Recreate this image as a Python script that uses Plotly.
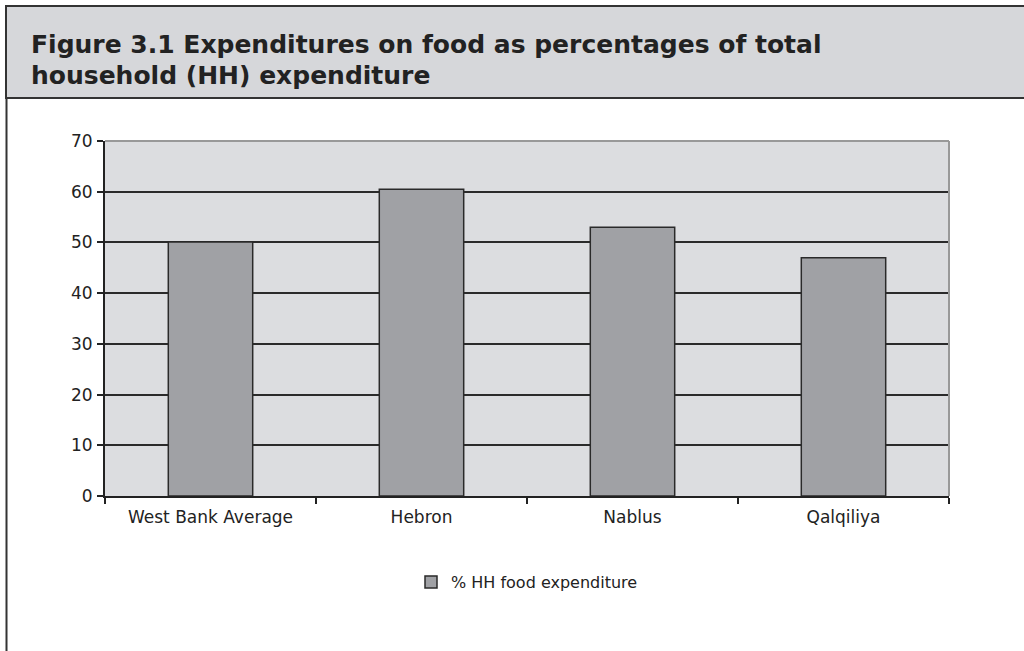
import plotly.graph_objects as go

categories = ["West Bank Average", "Hebron", "Nablus", "Qalqiliya"]
values = [50.1, 60.5, 53.0, 47.0]
series_name = "% HH food expenditure"
y_ticks = [0, 10, 20, 30, 40, 50, 60, 70]
title_line1 = "<b>Figure 3.1 Expenditures on food as percentages of total</b>"
title_line2 = "<b>household (HH) expenditure</b>"

W, H = 1024, 651
L, R, T, B = 105, 75, 141, 155
pw, ph = W - L - R, H - T - B


def px(x):
    return (x - L) / pw


def py(y):
    return (H - B - y) / ph


fig = go.Figure()
fig.add_trace(go.Bar(
    x=categories, y=values, name=series_name, width=0.4,
    marker=dict(color="#a0a1a5", line=dict(color="#2a2a2a", width=1.5)),
    showlegend=True,
))

shapes = [
    dict(type="rect", xref="paper", yref="paper", x0=px(6), x1=px(1030), y0=py(98), y1=py(6),
         fillcolor="#d6d7da", line=dict(color="#333333", width=2), layer="below"),
    dict(type="line", xref="paper", yref="paper", x0=px(6.5), x1=px(6.5), y0=py(98), y1=py(660),
         line=dict(color="#333333", width=2)),
    dict(type="line", xref="paper", yref="paper", x0=0, x1=1, y0=1, y1=1,
         line=dict(color="#999999", width=2), layer="above"),
    dict(type="line", xref="paper", yref="paper", x0=1, x1=1, y0=0, y1=1,
         line=dict(color="#999999", width=2), layer="above"),
]

title_font = dict(family="DejaVu Sans", size=25, color="#222222")

fig.update_layout(
    width=W, height=H,
    margin=dict(l=L, r=R, t=T, b=B, autoexpand=False),
    paper_bgcolor="white",
    plot_bgcolor="#dcdde0",
    font=dict(family="DejaVu Sans", size=16, color="#222222"),
    bargap=0.6,
    shapes=shapes,
    annotations=[
        dict(text=title_line1, xref="paper", yref="paper", x=px(29), y=py(45),
             xanchor="left", yanchor="middle", align="left", showarrow=False, font=title_font),
        dict(text=title_line2, xref="paper", yref="paper", x=px(29), y=py(75),
             xanchor="left", yanchor="middle", align="left", showarrow=False, font=title_font),
    ],
    legend=dict(
        orientation="h", x=0.5, xanchor="center", y=py(582), yanchor="middle",
        font=dict(size=16, color="#222222"), itemwidth=30, bgcolor="rgba(0,0,0,0)",
    ),
    xaxis=dict(
        type="category", showline=True, linecolor="#222222", linewidth=2,
        ticks="outside", tickson="boundaries", ticklen=6, tickwidth=2, tickcolor="#222222",
        showgrid=False, tickfont=dict(size=17), ticklabelstandoff=5,
    ),
    yaxis=dict(
        range=[0, 70], tickvals=y_ticks, showline=True, linecolor="#222222", linewidth=2,
        ticks="outside", ticklen=6, tickwidth=2, tickcolor="#222222",
        showgrid=True, gridcolor="#2a2a2a", gridwidth=2, zeroline=False,
        tickfont=dict(size=17), ticklabelstandoff=1,
    ),
)

fig.write_html("out.html", config={"displayModeBar": False},
               post_script="document.body.style.margin='0';")
